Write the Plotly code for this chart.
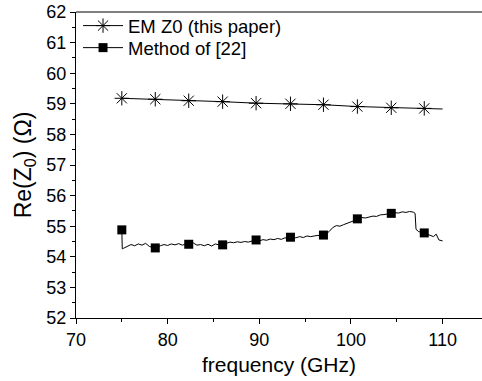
import plotly.graph_objects as go

# EM Z0 (this paper)
em_freq = [75.0, 78.65, 82.3, 86.0, 89.65, 93.4, 97.0, 100.7, 104.4, 108.0, 110.0]
em_z0 = [59.18, 59.15, 59.10, 59.07, 59.02, 59.00, 58.97, 58.91, 58.87, 58.85, 58.83]
em_mark_freq = em_freq[:10]
em_mark_z0 = em_z0[:10]

# Method of [22] (dense trace)
m22_freq = [75.0, 75.05, 75.2, 75.6, 76.0, 76.4, 76.8, 77.2, 77.6, 78.0, 78.4, 78.8,
            79.2, 79.6, 80.0, 80.4, 80.8, 81.2, 81.6, 82.0, 82.4, 82.8, 83.2, 83.6,
            84.0, 84.4, 84.8, 85.2, 85.6, 86.0, 86.4, 86.8, 87.2, 87.6, 88.0, 88.4,
            88.8, 89.2, 89.6, 90.0, 90.4, 90.8, 91.2, 91.6, 92.0, 92.4, 92.8, 93.2,
            93.6, 94.0, 94.4, 94.8, 95.2, 95.6, 96.0, 96.4, 96.8, 97.2, 97.6, 98.0,
            98.4, 98.8, 99.2, 99.6, 100.0, 100.4, 100.8, 101.2, 101.6, 102.0, 102.4,
            102.8, 103.2, 103.6, 104.0, 104.4, 104.8, 105.2, 105.6, 106.0, 106.4,
            106.8, 107.0, 107.1, 107.4, 107.8, 108.2, 108.6, 109.0, 109.3, 109.6, 110.0]
m22_z0 = [54.88, 54.26, 54.28, 54.33, 54.40, 54.36, 54.42, 54.38, 54.44, 54.34, 54.30, 54.29,
          54.36, 54.40, 54.37, 54.42, 54.39, 54.43, 54.38, 54.42, 54.42, 54.45, 54.38, 54.40,
          54.36, 54.41, 54.35, 54.42, 54.39, 54.40, 54.43, 54.48, 54.46, 54.49, 54.47, 54.50,
          54.48, 54.52, 54.55, 54.52, 54.56, 54.54, 54.58, 54.56, 54.60, 54.57, 54.62, 54.60,
          54.64, 54.62, 54.66, 54.63, 54.68, 54.66, 54.67, 54.70, 54.68, 54.73, 54.82, 54.95,
          55.02, 55.00, 55.05, 55.10, 55.15, 55.19, 55.24, 55.28, 55.27, 55.31, 55.33,
          55.32, 55.37, 55.38, 55.40, 55.42, 55.44, 55.43, 55.47, 55.45, 55.48,
          55.46, 55.42, 54.90, 54.82, 54.80, 54.76, 54.70, 54.66, 54.74, 54.55, 54.52]
m22_mark_freq = [75.0, 78.65, 82.3, 86.0, 89.65, 93.4, 97.0, 100.7, 104.4, 108.0]
m22_mark_z0 = [54.88, 54.29, 54.41, 54.39, 54.55, 54.64, 54.71, 55.24, 55.42, 54.78]

FONT = "Liberation Sans, Arial, sans-serif"

fig = go.Figure()
fig.add_trace(go.Scatter(x=em_freq, y=em_z0, mode="lines",
                         line=dict(color="black", width=1), showlegend=False))
fig.add_trace(go.Scatter(x=em_mark_freq, y=em_mark_z0, mode="markers",
                         marker=dict(symbol="asterisk-open", size=12, color="black",
                                     line=dict(color="black", width=1)),
                         showlegend=False))
fig.add_trace(go.Scatter(x=m22_freq, y=m22_z0, mode="lines",
                         line=dict(color="black", width=1), showlegend=False))
fig.add_trace(go.Scatter(x=m22_mark_freq, y=m22_mark_z0, mode="markers",
                         marker=dict(symbol="square", size=9, color="black"),
                         showlegend=False))
# legend entries
fig.add_trace(go.Scatter(x=[None], y=[None], mode="lines+markers", name="EM Z0 (this paper)",
                         line=dict(color="black", width=1), legend="legend",
                         marker=dict(symbol="asterisk-open", size=12, color="black",
                                     line=dict(color="black", width=1))))
fig.add_trace(go.Scatter(x=[None], y=[None], mode="lines+markers", name="Method of [22]",
                         line=dict(color="black", width=1), legend="legend2",
                         marker=dict(symbol="square", size=9, color="black")))

leg_common = dict(x=0.005, xanchor="left", yanchor="middle",
                  bgcolor="rgba(0,0,0,0)", font=dict(size=18.5), itemwidth=40)
fig.update_layout(
    width=482, height=381,
    margin=dict(l=76, r=0, t=12, b=63),
    paper_bgcolor="white", plot_bgcolor="white",
    font=dict(family=FONT, size=18, color="black"),
    legend=dict(y=0.954, **leg_common),
    legend2=dict(y=0.882, **leg_common),
    shapes=[dict(type="line", xref="paper", yref="paper", x0=0, x1=1, y0=1, y1=1,
                 line=dict(color="black", width=1))],
)
fig.update_xaxes(range=[70, 114.3], dtick=10, tick0=70, showgrid=False, zeroline=False,
                 showline=True, linecolor="black", linewidth=1,
                 ticks="outside", ticklen=5, tickcolor="black",
                 minor=dict(ticks="outside", ticklen=3, dtick=5, tickcolor="black"),
                 title=dict(text="frequency (GHz)", font=dict(size=21), standoff=8),
                 tickfont=dict(size=18))
fig.update_yaxes(range=[52, 62], dtick=1, showgrid=False, zeroline=False,
                 showline=True, linecolor="black", linewidth=1,
                 ticks="outside", ticklen=5, tickcolor="black",
                 minor=dict(ticks="outside", ticklen=3, dtick=0.5, tickcolor="black"),
                 title=dict(text="Re(Z<sub>0</sub>) (Ω)", font=dict(size=23), standoff=8),
                 tickfont=dict(size=18))

fig.write_html("out.html")
